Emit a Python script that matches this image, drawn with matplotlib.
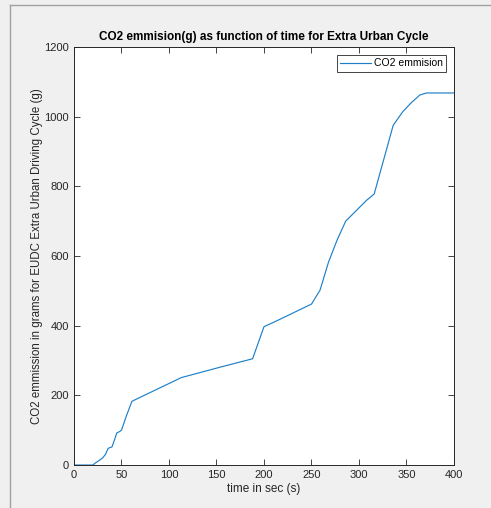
import matplotlib.pyplot as plt
from matplotlib.lines import Line2D

plt.rcParams['font.family'] = ['Liberation Sans', 'DejaVu Sans']

# cumulative CO2 over the EUDC cycle
time_s = [0, 20, 22, 27, 30, 33, 36, 40, 43, 45, 48, 50, 55, 61,
          113, 154, 188, 200, 215, 250, 259, 268, 277, 286,
          308, 316, 336, 346, 355, 364, 371, 400]
co2_g = [0, 0, 5, 14, 20, 30, 48, 52, 75, 92, 96, 100, 140, 183,
         251, 281, 305, 397, 416, 462, 502, 583, 646, 700,
         760, 778, 975, 1014, 1040, 1062, 1068, 1068]

xticks = [0, 50, 100, 150, 200, 250, 300, 350, 400]
yticks = [0, 200, 400, 600, 800, 1000, 1200]

bg = '#f0f0f0'
ink = '#262626'

fig = plt.figure(figsize=(4.91, 5.08), dpi=100, facecolor=bg)
ax = fig.add_axes([0.1507, 0.0846, 0.7739, 0.8229])
ax.set_facecolor('white')

ax.plot(time_s, co2_g, color='#1f80c8', linewidth=0.85, label='CO2 emmision')

ax.set_xlim(0, 400)
ax.set_ylim(0, 1200)
ax.set_xticks(xticks)
ax.set_yticks(yticks)
ax.tick_params(direction='in', length=4, width=0.6, top=True, right=True,
               colors=ink, labelsize=8, labelcolor=ink)
for s in ax.spines.values():
    s.set_color(ink)
    s.set_linewidth(0.7)

ax.set_title('CO2 emmision(g) as function of time for Extra Urban Cycle',
             fontsize=8.5, fontweight='bold', color='black', pad=5)
ax.set_xlabel('time in sec (s)', fontsize=8.5, color=ink, labelpad=2)
ax.set_ylabel('CO2 emmission in grams for EUDC Extra Urban Driving Cycle (g)',
              fontsize=8.3, color=ink, labelpad=1)

leg = ax.legend(loc='upper right', fontsize=7.5, handlelength=2.9, fancybox=False,
                framealpha=1, edgecolor=ink, borderaxespad=0.8,
                borderpad=0.3, handletextpad=0.3)
leg.get_frame().set_linewidth(0.6)

# window border lines
fig.add_artist(Line2D([10 / 491, 10 / 491], [0, 1 - 5 / 508], color='#a0a0a0', linewidth=1))
fig.add_artist(Line2D([10 / 491, 1], [1 - 5 / 508, 1 - 5 / 508], color='#a0a0a0', linewidth=1))

fig.savefig('out.png', dpi=100, facecolor=bg)
